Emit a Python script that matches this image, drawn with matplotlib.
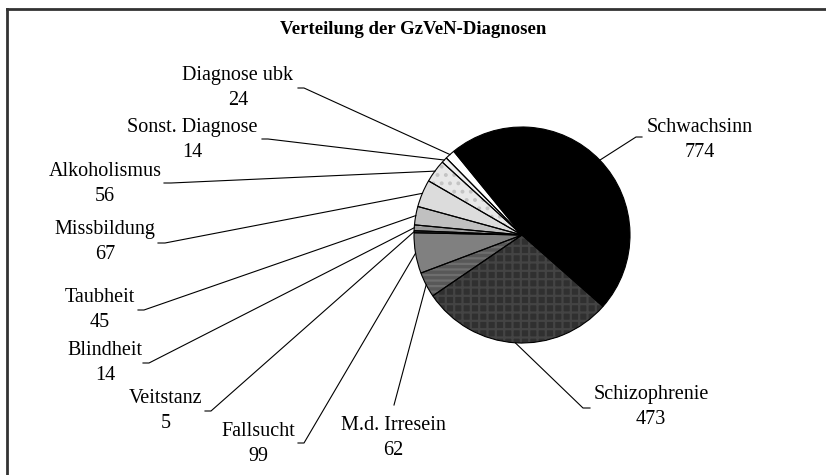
import matplotlib
matplotlib.use('Agg')
import matplotlib.pyplot as plt
import numpy as np

# DATA ###############################################################################################################

labels = ['Schwachsinn', 'Schizophrenie', 'M.d. Irresein', 'Fallsucht', 'Veitstanz', 'Blindheit',
          'Taubheit', 'Missbildung', 'Alkoholismus', 'Sonst. Diagnose', 'Diagnose ubk']
counts = [774, 473, 62, 99, 5, 14, 45, 67, 56, 14, 24]
title = 'Verteilung der GzVeN-Diagnosen'

######################################################################################################################

W, H = 826, 475
CENTER = (522, 235)    # pixel position of pie centre
RADIUS = 108
START = 129.2

face = ['#000000', '#303030', '#585858', '#808080', '#404040', '#9a9a9a',
        '#c0c0c0', '#dcdcdc', '#e8e8e8', '#f0f0f0', '#ffffff']
hatch = [None, '++', '---', None, None, '..', None, None, '..', None, None]
hatch_col = ['k', '#444444', '#6e6e6e', 'k', 'k', '#b0b0b0', 'k', 'k', '#c4c4c4', 'k', 'k']

# label centre (x, y) and start of leader line (x, y, dx of short tick) in pixels
label_pos = [(700, 140), (651, 407), (393, 438), (258, 444), (166, 411), (105, 363),
             (100, 310), (105, 242), (105, 184), (192, 140), (238, 88)]
leader = [(642, 137, -6), (590, 408, -7), (394, 405, 0), (298, 443, 6), (205, 411, 6), (143, 363, 6),
          (138, 310, 6), (158, 243, 7), (164, 183, 7), (262, 139, 6), (298, 88, 6)]

plt.rcParams['font.family'] = ['Liberation Serif', 'DejaVu Serif']
plt.rcParams['hatch.linewidth'] = 1.6


def py(y):
    return H - y


fig = plt.figure(figsize=(W / 100, H / 100), dpi=100)
ax = fig.add_axes([0, 0, 1, 1])

center = (CENTER[0], py(CENTER[1]))
wedges, _ = ax.pie(counts, colors=face, startangle=START, counterclock=False, radius=RADIUS,
                   center=center, frame=True, wedgeprops=dict(linewidth=0))
for w, h, hc in zip(wedges, hatch, hatch_col):
    if h:
        w.set_hatch(h)
        w.set_edgecolor(hc)
# outlines on top
ax.pie(counts, colors=['none'] * len(counts), startangle=START, counterclock=False, radius=RADIUS,
       center=center, frame=True, wedgeprops=dict(linewidth=0.8, edgecolor='black', facecolor='none'))

for w, lab, n, (lx, ly), (ax0, ay0, tick) in zip(wedges, labels, counts, label_pos, leader):
    mid = np.deg2rad((w.theta1 + w.theta2) / 2)
    ex = center[0] + RADIUS * np.cos(mid)
    ey = center[1] + RADIUS * np.sin(mid)
    ax.plot([ax0, ax0 + tick, ex], [py(ay0), py(ay0), ey], color='black', lw=0.8)
    ax.text(lx, py(ly), f'{lab}\n{n}', ha='center', va='center', fontsize=14.5, linespacing=1.45)

ax.text(413, py(30), title, ha='center', va='center', fontsize=13.5, fontweight='bold')

# frame (only top and left edges visible in the crop)
ax.plot([7, 825], [py(9), py(9)], color='#333333', lw=2)
ax.plot([7, 7], [py(9), 0], color='#333333', lw=2)

ax.set_xlim(0, W)
ax.set_ylim(0, H)
ax.set_aspect('auto')
ax.axis('off')

fig.savefig('out.png', dpi=100, facecolor='white')
